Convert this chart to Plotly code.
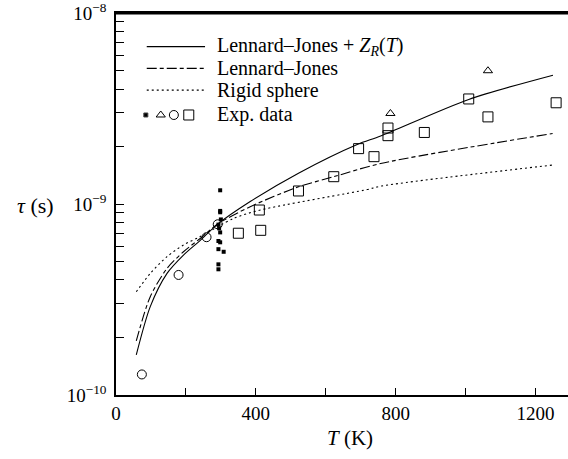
import plotly.graph_objects as go

# ---- data ----
T_ljzr = [58, 98, 146, 193, 241, 291, 384, 522, 690, 757, 1009, 1250]
tau_ljzr = [1.62e-10, 2.9e-10, 4.33e-10, 5.4e-10, 6.45e-10, 7.85e-10, 1.03e-9, 1.45e-9, 2.05e-9, 2.27e-9, 3.53e-9, 4.73e-9]

T_lj = [58, 98, 146, 193, 241, 291, 384, 522, 623, 757, 1249]
tau_lj = [1.92e-10, 3.27e-10, 4.6e-10, 5.62e-10, 6.6e-10, 7.85e-10, 9.68e-10, 1.23e-9, 1.39e-9, 1.63e-9, 2.34e-9]

T_rs = [58, 98, 146, 193, 241, 336, 413, 718, 757, 1249]
tau_rs = [3.47e-10, 4.33e-10, 5.3e-10, 6.1e-10, 6.75e-10, 8.4e-10, 9.3e-10, 1.19e-9, 1.24e-9, 1.60e-9]

T_dot = [298, 298, 298, 300, 293, 295, 298, 293, 298, 293, 308, 293, 293]
tau_dot = [1.18e-9, 9.2e-10, 9.05e-10, 8.3e-10, 7.8e-10, 7.46e-10, 7.1e-10, 6.4e-10, 6.3e-10, 5.8e-10, 5.62e-10, 4.83e-10, 4.55e-10]

T_tri = [785, 1064]
tau_tri = [2.98e-9, 4.99e-9]

T_circ = [74, 179, 259, 291]
tau_circ = [1.28e-10, 4.25e-10, 6.7e-10, 7.83e-10]

T_sq = [350, 414, 410, 522, 623, 694, 738, 778, 778, 882, 1009, 1064, 1259]
tau_sq = [7.03e-10, 7.28e-10, 9.3e-10, 1.17e-9, 1.39e-9, 1.95e-9, 1.77e-9, 2.5e-9, 2.28e-9, 2.37e-9, 3.55e-9, 2.86e-9, 3.39e-9]

x_tickvals = [0, 200, 400, 600, 800, 1000, 1200]
x_ticktext = ["0", "", "400", "", "800", "", "1200"]
y_major = [-10, -9, -8]
y_labels = ["10<sup>−10</sup>", "10<sup>−9</sup>", "10<sup>−8</sup>"]

legend_labels = ["Lennard–Jones + <i>Z<sub>R</sub></i>(<i>T</i>)", "Lennard–Jones", "Rigid sphere", "Exp. data"]

FONT = "Liberation Serif"

# y tick values: majors plus minors (2..9 x decade)
y_tickvals, y_ticktext = [], []
for e in [-10, -9, -8]:
    for m in range(1, 10):
        if e == -8 and m > 1:
            break
        y_tickvals.append(m * 10.0 ** e)
        y_ticktext.append(y_labels[y_major.index(e)] if m == 1 else "")

fig = go.Figure()
line_styles = [
    dict(color="black", width=1.1),
    dict(color="black", width=1.1, dash="10px,3px,4px,3px"),
    dict(color="black", width=1.1, dash="2px,3px"),
]
for (tx, ty), ls in zip([(T_ljzr, tau_ljzr), (T_lj, tau_lj), (T_rs, tau_rs)], line_styles):
    fig.add_trace(go.Scatter(x=tx, y=ty, mode="lines", line=dict(shape="spline", smoothing=0.8, **ls),
                             showlegend=False, hoverinfo="skip"))

fig.add_trace(go.Scatter(x=T_dot, y=tau_dot, mode="markers",
                         marker=dict(symbol="square", size=4, color="black"), showlegend=False))
fig.add_trace(go.Scatter(x=T_tri, y=tau_tri, mode="markers",
                         marker=dict(symbol="triangle-up-open", size=8, color="black", line=dict(width=1)), showlegend=False))
fig.add_trace(go.Scatter(x=T_circ, y=tau_circ, mode="markers",
                         marker=dict(symbol="circle-open", size=9, color="black", line=dict(width=1)), showlegend=False))
fig.add_trace(go.Scatter(x=T_sq, y=tau_sq, mode="markers",
                         marker=dict(symbol="square-open", size=10, color="black", line=dict(width=1)), showlegend=False))

# ---- hand-drawn legend on an overlay 0..1 axis ----
rows_y = [0.912, 0.855, 0.798, 0.733]
lx0, lx1, tx0 = 0.068, 0.197, 0.219
for ry, ls in zip(rows_y[:3], line_styles):
    fig.add_trace(go.Scatter(x=[lx0, lx1], y=[ry, ry], xaxis="x2", yaxis="y2", mode="lines",
                             line=ls, showlegend=False, hoverinfo="skip"))
leg_sym = [("square", 4, 0.066), ("triangle-up-open", 8, 0.099), ("circle-open", 9, 0.128), ("square-open", 10, 0.161)]
for sym, sz, sx in leg_sym:
    fig.add_trace(go.Scatter(x=[sx], y=[rows_y[3]], xaxis="x2", yaxis="y2", mode="markers",
                             marker=dict(symbol=sym, size=sz, color="black", line=dict(width=1)),
                             showlegend=False, hoverinfo="skip"))
for ry, txt in zip(rows_y, legend_labels):
    fig.add_annotation(x=tx0, y=ry, xref="x2", yref="y2", text=txt, showarrow=False,
                       xanchor="left", yanchor="middle", font=dict(family=FONT, size=20, color="black"))

fig.add_annotation(x=-0.178, y=0.497, xref="paper", yref="paper", text="<i>τ</i> (s)", showarrow=False,
                   xanchor="center", yanchor="middle", font=dict(family=FONT, size=22, color="black"))
fig.add_annotation(x=0.518, y=-0.113, xref="paper", yref="paper", text="<i>T</i> (K)", showarrow=False,
                   xanchor="center", yanchor="middle", font=dict(family=FONT, size=21, color="black"))

# top frame line (frame, not data)
fig.add_shape(type="rect", xref="paper", yref="paper", x0=0, x1=1, y0=0.996, y1=1.0,
              fillcolor="black", line=dict(width=0), layer="above")

fig.update_layout(
    width=568, height=459,
    margin=dict(l=116, r=0, t=13, b=64),
    paper_bgcolor="white", plot_bgcolor="white",
    font=dict(family=FONT, size=19, color="black"),
    xaxis=dict(range=[0, 1293], tickvals=x_tickvals, ticktext=x_ticktext, ticks="inside", ticklen=7,
               tickwidth=1.2, tickcolor="black", showline=True, linecolor="black", linewidth=1.5,
               mirror=True, showgrid=False, zeroline=False, tickfont=dict(family=FONT, size=19),
               ticklabeloverflow="allow"),
    yaxis=dict(type="log", range=[-10.0005, -7.9995], tickvals=y_tickvals, ticktext=y_ticktext, ticks="inside",
               ticklen=8, tickwidth=1.2, tickcolor="black", showline=True, linecolor="black", linewidth=1.5,
               showgrid=False, zeroline=False, tickfont=dict(family=FONT, size=19), ticklabelstandoff=4,
               ticklabeloverflow="allow"),
    xaxis2=dict(range=[0, 1], overlaying="x", visible=False),
    yaxis2=dict(range=[0, 1], overlaying="y", visible=False),
)

fig.write_html("out.html")
